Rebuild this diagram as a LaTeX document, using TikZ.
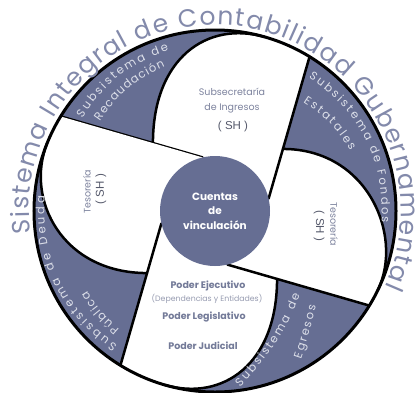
\documentclass[tikz,border=0pt]{standalone}
\usepackage{fontspec}
\setmainfont{Poppins}
\newfontfamily\arialfont{Liberation Sans}
\usetikzlibrary{calc,decorations.text}
\definecolor{slate}{HTML}{666E93}
\definecolor{bladetext}{HTML}{7D839E}
\definecolor{podertext}{HTML}{737A98}
\definecolor{bandtext}{HTML}{DDE0EA}
\definecolor{titlecol}{HTML}{838AAB}
\definecolor{shgray}{HTML}{55596B}

\begin{document}
\begin{tikzpicture}[x=1pt,y=1pt,
  rim/.style={line width=3pt},
  edge/.style={line width=2.5pt,line cap=round},
  hub/.style={circle,fill=slate,minimum size=110pt,inner sep=0pt,text=white,align=center,font=\bfseries\fontsize{10.5}{14.5}\selectfont},
  bladetxt/.style={text=bladetext,align=center,font=\fontsize{9.5}{15}\selectfont},
  poder/.style={text=podertext,font=\bfseries\fontsize{9.5}{11}\selectfont},
  dep/.style={text=bladetext!80,font=\fontsize{7.8}{8}\selectfont},
  sh/.style={text=shgray,font=\arialfont\fontsize{11.5}{12}\selectfont},
  bandtxt/.style={decorate,decoration={text along path,text align={fit to path},text color=bandtext,text={|\fontsize{11.5}{12}\selectfont|#1}}},
  titletxt/.style={decorate,decoration={text along path,text align={fit to path},text color=titlecol,text={|\fontsize{25}{25}\selectfont|#1}}}
  ]
\def\Rout{181}  % outer rim
\def\Rin{55}    % hub
\path[use as bounding box,fill=white] (-215,-181) rectangle (204,211);
\fill[slate] (0,0) circle (\Rout);
% four blades, each turned by a quarter
\foreach \rot/\ta in {0/74,-90/64,-180/74,-270/68}{
  \begin{scope}[rotate=\rot]
    \coordinate (o) at (148.5:\Rout);      % rim end of spoke
    \coordinate (i) at (103:\Rin);         % hub end of spoke
    \coordinate (j) at ($(o)!0.65!(i)$);   % blade leaves the spoke
    \coordinate (t) at (\ta:\Rout);        % blade meets the rim
    \fill[white] (j) -- (i) -- (13:\Rin) -- (58.5:\Rout) arc[start angle=58.5,end angle=\ta,radius=\Rout]
      .. controls +(\ta+90:60) and +(90:85) .. (j) -- cycle;
    \draw[edge] (o) -- (i);
    \draw[edge] (j) .. controls +(90:85) and +(\ta+90:60) .. (t);
  \end{scope}
}
\draw[rim] (0,0) circle (\Rout);
\node[hub] (hub) at (0,0) {Cuentas\\de\\vinculación};
% texts in the blades
\node[bladetxt] (ingresos) at (17,110) {Subsecretaría\\de Ingresos};
\node[sh] (shtop) at (18,84) {( SH )};
\node[bladetxt,rotate=90] (tesizq) at (-128,19) {Tesorería};
\node[sh,rotate=90] (shizq) at (-114,22) {( SH )};
\node[bladetxt,rotate=-90] (tesder) at (119,-13) {Tesorería};
\node[sh,rotate=-90] (shder) at (104,-15) {( SH )};
\node[poder] (ejecutivo) at (-7,-75) {Poder Ejecutivo};
\node[dep] (entidades) at (-8,-88) {(Dependencias y Entidades)};
\node[poder] (legislativo) at (-11,-106) {Poder Legislativo};
\node[poder] (judicial) at (-12,-135) {Poder Judicial};
% texts in the dark bands
\path[bandtxt={Subsistema de}] (145:162) to[bend left=19] (106:167);
\path[bandtxt={Recaudación}] (142:146) to[bend left=16] (109:153);
\path[bandtxt={Subsistema de Fondos}] (55:163) to[bend left=29] (-4:167);
\path[bandtxt={Estatales}] (51:140) to[bend left=13] (24:148);
\path[bandtxt={Subsistema de Deuda}] (234:166) to[bend left=29] (175:171);
\path[bandtxt={Pública}] (231:152) to[bend left=9] (212:151);
\path[bandtxt={Subsistema de}] (25,-176) .. controls (45,-155) and (70,-125) .. (85,-84);
\path[bandtxt={Egresos}] (86,-148) .. controls (92,-130) and (97,-112) .. (101,-95);
% title round the rim
\path[titletxt={Sistema Integral de Contabilidad Gubernamental}] (187:186) arc[start angle=187,end angle=-24,radius=186];
\end{tikzpicture}
\end{document}
